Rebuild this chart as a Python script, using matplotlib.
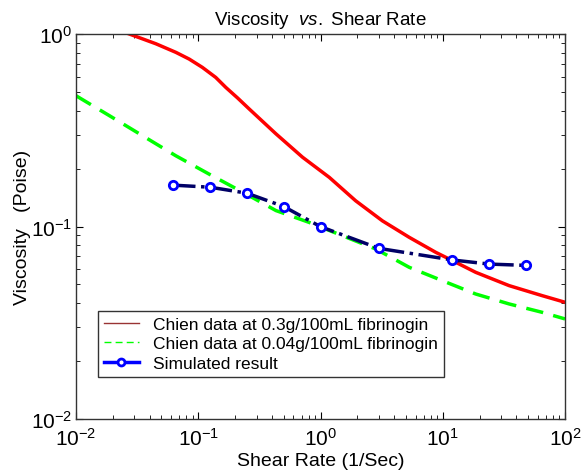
import matplotlib
matplotlib.use("Agg")
import matplotlib.pyplot as plt
from matplotlib.lines import Line2D

plt.rcParams['font.family'] = ['Liberation Sans', 'DejaVu Sans']
plt.rcParams['mathtext.fontset'] = 'custom'
plt.rcParams['mathtext.rm'] = 'Liberation Sans'
plt.rcParams['mathtext.it'] = 'Liberation Sans:italic'
plt.rcParams['mathtext.default'] = 'regular'

# Chien data, 0.3g/100mL fibrinogin (red solid)
red_x = [0.0273, 0.0450, 0.0656, 0.0843, 0.108, 0.139, 0.168, 0.210, 0.261, 0.432, 0.713,
         1.18, 1.94, 3.21, 5.31, 8.77, 12.0, 18.6, 34.9, 65.3, 100]
red_y = [1.0, 0.89, 0.803, 0.741, 0.671, 0.595, 0.528, 0.465, 0.408, 0.303, 0.229,
         0.180, 0.136, 0.107, 0.0879, 0.0734, 0.0665, 0.0578, 0.0493, 0.0437, 0.0404]

# Chien data, 0.04g/100mL fibrinogin (green dashed)
green_x = [0.01, 0.0187, 0.0351, 0.0656, 0.123, 0.230, 0.432, 0.808, 1.51, 2.83, 5.31, 9.93, 18.6, 34.9, 65.3, 100]
green_y = [0.478, 0.377, 0.296, 0.233, 0.187, 0.151, 0.121, 0.105, 0.0896, 0.0764, 0.0614, 0.0523, 0.0446, 0.0396, 0.0358, 0.0331]

# simulated result
sim_x = [0.0625, 0.125, 0.25, 0.5, 1, 3, 12, 24, 48]
sim_y = [0.164, 0.160, 0.149, 0.127, 0.0998, 0.0770, 0.067, 0.0638, 0.0628]

fig = plt.figure(figsize=(5.81, 4.77), dpi=100)
ax = fig.add_axes([0.1308, 0.1195, 0.8417, 0.8071])

ax.loglog(red_x, red_y, color='#ff0000', lw=2.5)
ax.loglog(green_x, green_y, color='#00ff00', lw=2.5, ls=(0, (5, 3)))
ax.loglog(sim_x, sim_y, color='#000066', lw=2.5, ls='-.', marker='o',
          mec='#0000ff', mfc='white', mew=2, ms=6)

ax.set_xlim(1e-2, 1e2)
ax.set_ylim(1e-2, 1e0)
ax.tick_params(which='both', direction='in', top=True, right=True, labelsize=15)
ax.tick_params(which='major', length=5)
ax.tick_params(which='minor', length=3)
ax.tick_params(axis='x', which='major', pad=6)
ax.tick_params(axis='y', which='major', pad=3)
for s in ax.spines.values():
    s.set_linewidth(1.0)
    s.set_color('#333333')

ax.set_title(r'Viscosity  $\it{vs.}$ Shear Rate', fontsize=13.5, pad=7)
ax.set_xlabel('Shear Rate (1/Sec)', fontsize=14, labelpad=2)
ax.set_ylabel('Viscosity   (Poise)', fontsize=14, labelpad=0)

handles = [
    Line2D([], [], color='#993333', lw=1),
    Line2D([], [], color='#00ff00', lw=1, ls=(0, (5, 3))),
    Line2D([], [], color='#0000ff', lw=2.5, ls='-', marker='o', mec='#0000ff', mfc='white', mew=2, ms=5),
]
labels = ['Chien data at 0.3g/100mL fibrinogin',
          'Chien data at 0.04g/100mL fibrinogin',
          'Simulated result']
leg = ax.legend(handles, labels, loc='lower left', bbox_to_anchor=(0.045, 0.109),
                fontsize=12.5, frameon=True, fancybox=False, handlelength=2.0,
                borderpad=0.35, labelspacing=0.25, handletextpad=0.8, borderaxespad=0)
leg.get_frame().set_edgecolor('black')
leg.get_frame().set_linewidth(1.0)

fig.savefig('out.png', dpi=100)
